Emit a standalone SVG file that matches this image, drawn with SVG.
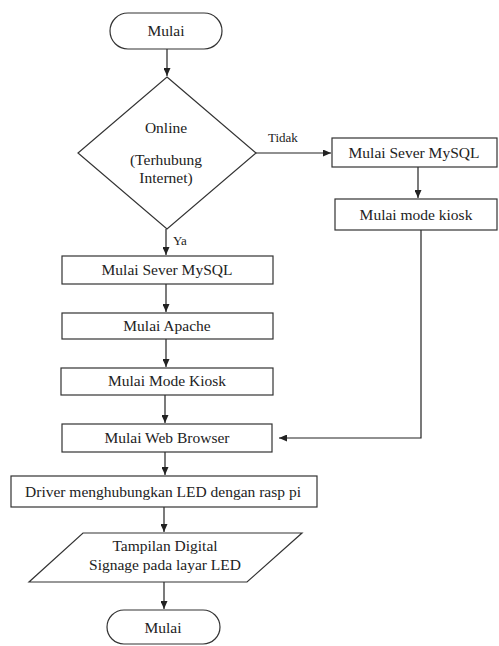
<svg xmlns="http://www.w3.org/2000/svg" width="499" height="646" viewBox="0 0 499 646" font-family="Liberation Serif, Tinos, DejaVu Serif, serif">
<style>
.s{fill:#fff;stroke:#333;stroke-width:1.2}
.t{font-size:15.5px;fill:#222;text-anchor:middle}
.l{font-size:13px;fill:#222}
.c{fill:none;stroke:#222;stroke-width:1.2}
</style>
<defs>
<marker id="ah" markerUnits="userSpaceOnUse" markerWidth="8" markerHeight="7" refX="8" refY="3.5" orient="auto">
<path d="M0,0 L8,3.5 L0,7 z" fill="#222"/>
</marker>
</defs>
<rect width="499" height="646" fill="#fff"/>
<g id="connectors">
<line class="c" x1="167" y1="49" x2="167" y2="76" marker-end="url(#ah)"/>
<line class="c" x1="166" y1="229" x2="166" y2="255" marker-end="url(#ah)"/>
<line class="c" x1="166" y1="284" x2="166" y2="312" marker-end="url(#ah)"/>
<line class="c" x1="166" y1="339" x2="166" y2="367" marker-end="url(#ah)"/>
<line class="c" x1="165" y1="395" x2="165" y2="423" marker-end="url(#ah)"/>
<line class="c" x1="165" y1="452" x2="165" y2="475" marker-end="url(#ah)"/>
<line class="c" x1="164" y1="507" x2="164" y2="532" marker-end="url(#ah)"/>
<line class="c" x1="164" y1="582" x2="164" y2="609" marker-end="url(#ah)"/>
<line class="c" x1="256" y1="153" x2="331" y2="153" marker-end="url(#ah)"/>
<line class="c" x1="418" y1="167" x2="418" y2="198" marker-end="url(#ah)"/>
<polyline class="c" points="421,230 421,438 279,438" marker-end="url(#ah)"/>
<text class="l" x="268" y="142">Tidak</text>
<text class="l" x="173" y="245">Ya</text>
</g>
<g id="start">
<rect class="s" x="110" y="13" width="112" height="36" rx="18"/>
<text class="t" x="166" y="36">Mulai</text>
</g>
<g id="decision">
<polygon class="s" points="167,77 256,153 167,229 78,153"/>
<text class="t" x="166" y="133">Online</text>
<text class="t" x="166" y="165">(Terhubung</text>
<text class="t" x="166" y="183">Internet)</text>
</g>
<g id="mysql1">
<rect class="s" x="62" y="256" width="211" height="28"/>
<text class="t" x="167" y="275">Mulai Sever MySQL</text>
</g>
<g id="apache">
<rect class="s" x="62" y="313" width="211" height="26"/>
<text class="t" x="167" y="331">Mulai Apache</text>
</g>
<g id="kiosk1">
<rect class="s" x="61" y="368" width="212" height="27"/>
<text class="t" x="167" y="386">Mulai Mode Kiosk</text>
</g>
<g id="browser">
<rect class="s" x="62" y="424" width="210" height="28"/>
<text class="t" x="167" y="443">Mulai Web Browser</text>
</g>
<g id="driver">
<rect class="s" x="11" y="476" width="306" height="31"/>
<text class="t" x="163" y="497">Driver menghubungkan LED dengan rasp pi</text>
</g>
<g id="display">
<polygon class="s" points="83,533 302,533 247,582 29,582"/>
<text class="t" x="165" y="551">Tampilan Digital</text>
<text class="t" x="165" y="570">Signage pada layar LED</text>
</g>
<g id="end">
<rect class="s" x="107" y="610" width="113" height="34" rx="17"/>
<text class="t" x="163" y="633">Mulai</text>
</g>
<g id="mysql2">
<rect class="s" x="332" y="138" width="165" height="29"/>
<text class="t" x="414" y="158">Mulai Sever MySQL</text>
</g>
<g id="kiosk2">
<rect class="s" x="335" y="199" width="162" height="31"/>
<text class="t" x="416" y="220">Mulai mode kiosk</text>
</g>
</svg>
